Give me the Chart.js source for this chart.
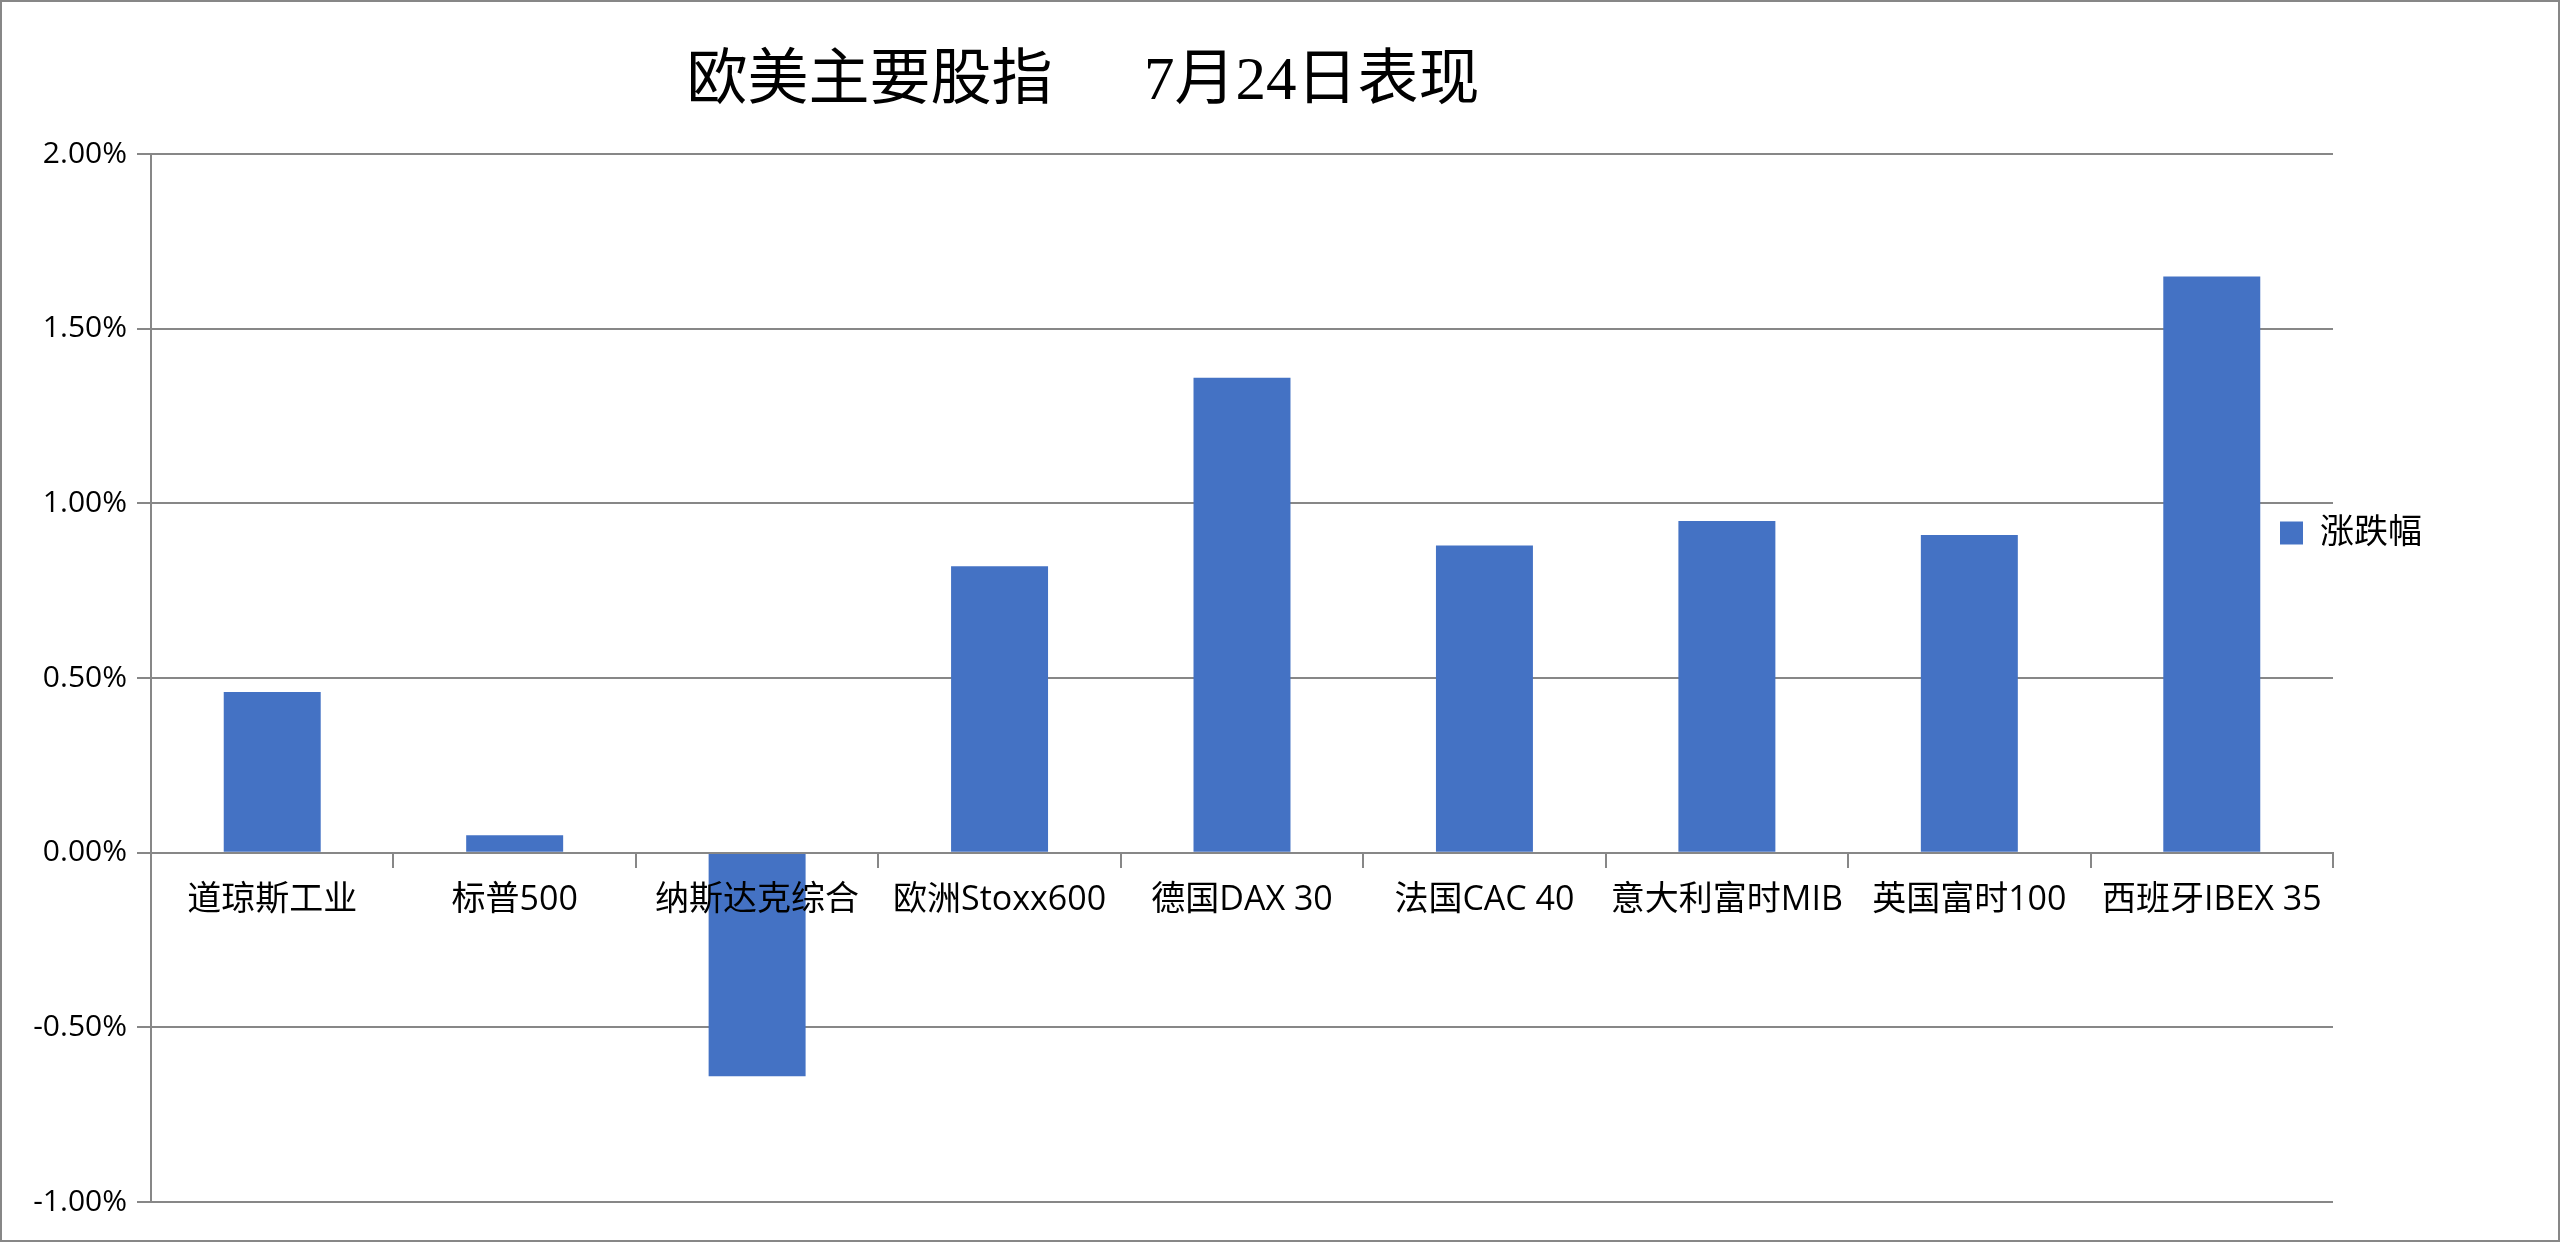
<!DOCTYPE html>
<html>
<head>
<meta charset="utf-8">
<title>欧美主要股指 7月24日表现</title>
<script src="https://cdn.jsdelivr.net/npm/chart.js@4.4.1/dist/chart.umd.min.js"></script>
<style>
  html, body { margin: 0; padding: 0; background: #fff; }
  #wrap { width: 2560px; height: 1242px; }
</style>
</head>
<body>
<div id="wrap"><canvas id="stocks" width="2560" height="1242"></canvas></div>
<script>
// data (percent change on 7/24)
const indexNames = ['道琼斯工业', '标普500', '纳斯达克综合', '欧洲Stoxx600', '德国DAX 30', '法国CAC 40', '意大利富时MIB', '英国富时100', '西班牙IBEX 35']
const changes = [0.46, 0.05, -0.64, 0.82, 1.36, 0.88, 0.95, 0.91, 1.65]
const seriesName = '涨跌幅'
const chartTitle = '欧美主要股指      7月24日表现'
const yMin = -1
const yMax = 2
const yStep = 0.5

const barColor = '#4472C4'
const lineGray = '#878787'

Chart.defaults.font.family = '"Open Sans", "Noto Sans CJK SC", sans-serif'
Chart.defaults.color = '#000'

// white page + thin gray frame round the whole chart
const frame = {
  id: 'frame',
  beforeDraw(chart) {
    const ctx = chart.ctx
    ctx.save()
    ctx.fillStyle = '#fff'
    ctx.fillRect(0, 0, chart.width, chart.height)
    ctx.strokeStyle = lineGray
    ctx.lineWidth = 2
    ctx.strokeRect(1, 1, chart.width - 2, chart.height - 2)
    ctx.restore()
  }
}

// excel had the title and legend dragged by hand, move them the same way
const placeBlocks = {
  id: 'placeBlocks',
  afterLayout(chart) {
    const t = chart.titleBlock
    t.left = 0
    t.right = 2166
    const lg = chart.legend
    lg.left = 2270
    lg.right = lg.left + lg.width
    lg.top = 506
    lg.bottom = lg.top + 80
  }
}

const ctx = document.getElementById('stocks')

new Chart(ctx, {
  type: 'bar',
  data: {
    labels: indexNames,
    datasets: [{
      label: seriesName,
      data: changes,
      backgroundColor: barColor,
      borderWidth: 0,
      categoryPercentage: 1,
      barPercentage: 0.4
    }]
  },
  options: {
    responsive: false,
    devicePixelRatio: 1,
    animation: false,
    layout: {
      padding: { left: 0, right: 227, top: 0, bottom: 40 }
    },
    plugins: {
      title: {
        display: true,
        text: chartTitle,
        align: 'center',
        color: '#000',
        font: { family: '"Liberation Serif", "Noto Sans CJK SC", serif', size: 61, weight: 'normal' },
        padding: { top: 46, bottom: 35 }
      },
      legend: {
        position: 'chartArea',
        fullSize: false,
        align: 'start',
        labels: {
          boxWidth: 23,
          boxHeight: 23,
          font: { size: 34 }
        }
      },
      tooltip: { enabled: false }
    },
    scales: {
      x: {
        position: { y: 0 },
        grid: {
          drawOnChartArea: false,
          drawTicks: true,
          tickLength: 14,
          color: lineGray,
          lineWidth: 2
        },
        border: { color: lineGray, width: 2, z: 1 },
        ticks: {
          z: 1,
          font: { size: 34 },
          padding: 13,
          maxRotation: 0,
          autoSkip: false
        },
        afterFit(scale) { scale.height = 40 }
      },
      y: {
        min: yMin,
        max: yMax,
        grid: {
          color: lineGray,
          lineWidth: 2,
          tickLength: 14
        },
        border: { color: lineGray, width: 2 },
        ticks: {
          stepSize: yStep,
          font: { size: 30 },
          padding: 10,
          callback: value => value.toFixed(2) + '%'
        },
        afterFit(scale) { scale.width = 151 }
      }
    }
  },
  plugins: [frame, placeBlocks]
})
</script>
</body>
</html>
